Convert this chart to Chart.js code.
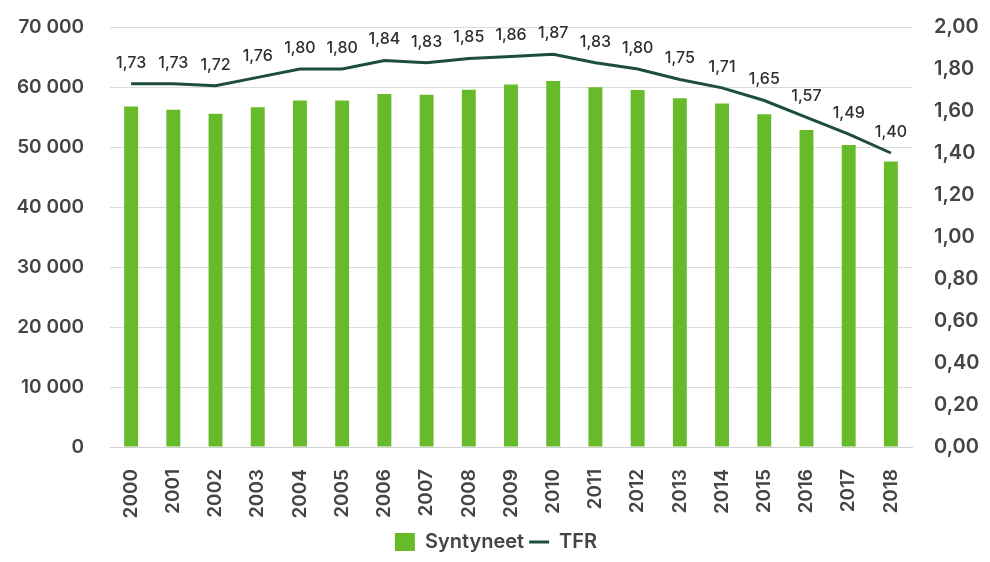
<!DOCTYPE html>
<html>
<head>
<meta charset="utf-8">
<script src="https://cdn.jsdelivr.net/npm/chart.js@4.4.0/dist/chart.umd.min.js"></script>
<style>
  html, body { margin: 0; padding: 0; background: #fff; }
  #wrap { width: 990px; height: 562px; position: relative; }
</style>
</head>
<body>
<div id="wrap"><canvas id="c"></canvas></div>
<script>
// vuodet
const years = ['2000', '2001', '2002', '2003', '2004', '2005', '2006', '2007', '2008', '2009',
    '2010', '2011', '2012', '2013', '2014', '2015', '2016', '2017', '2018'];
// syntyneet lapset
const births = [56742, 56189, 55555, 56630, 57758, 57745, 58840, 58729, 59530, 60430,
    60980, 59961, 59493, 58134, 57232, 55472, 52814, 50321, 47577];
// kokonaishedelmällisyysluku
const tfr = [1.73, 1.73, 1.72, 1.76, 1.80, 1.80, 1.84, 1.83, 1.85, 1.86,
    1.87, 1.83, 1.80, 1.75, 1.71, 1.65, 1.57, 1.49, 1.40];

const fontFam = 'Inter, "Open Sans", sans-serif';
const txt = '#444';

function fiNum(v) {
    return String(Math.round(v)).replace(/\B(?=(\d{3})+(?!\d))/g, ' ');
}
function fiDec(v) {
    return v.toFixed(2).replace('.', ',');
}

// labels over the TFR line
const lineLabels = {
    id: 'lineLabels',
    afterDatasetsDraw(chart) {
        const ctx = chart.ctx;
        const meta = chart.getDatasetMeta(1);
        ctx.save();
        ctx.font = '500 16px ' + fontFam;
        ctx.fillStyle = '#2e2e2e';
        ctx.textAlign = 'center';
        ctx.textBaseline = 'middle';
        meta.data.forEach((pt, i) => {
            ctx.fillText(fiDec(tfr[i]), pt.x, pt.y - 21);
        });
        ctx.restore();
    }
};

new Chart(document.getElementById('c'), {
    data: {
        labels: years,
        datasets: [
            {
                type: 'bar',
                label: 'Syntyneet',
                data: births,
                backgroundColor: '#67bb2b',
                barPercentage: 0.33,
                categoryPercentage: 1,
                yAxisID: 'y',
                order: 2,
                pointStyle: 'rect'
            },
            {
                type: 'line',
                label: 'TFR',
                data: tfr,
                borderColor: '#1d4e3a',
                backgroundColor: '#1d4e3a',
                borderWidth: 3,
                pointRadius: 0,
                tension: 0,
                yAxisID: 'y1',
                order: 1,
                pointStyle: 'line'
            }
        ]
    },
    options: {
        responsive: true,
        maintainAspectRatio: false,
        animation: false,
        layout: { padding: { top: 27, left: 4, right: 2, bottom: 0 } },
        plugins: {
            legend: {
                position: 'bottom',
                labels: {
                    usePointStyle: true,
                    pointStyleWidth: 20,
                    boxHeight: 18,
                    color: txt,
                    font: { family: fontFam, size: 20, weight: '600' },
                    padding: 5,
                    sort: (a, b) => a.datasetIndex - b.datasetIndex
                }
            },
            tooltip: { enabled: false }
        },
        scales: {
            x: {
                grid: { display: false },
                border: { color: '#d0d0d0', width: 1 },
                afterFit: s => { s.height = 80; },
                ticks: {
                    color: txt,
                    minRotation: 90,
                    maxRotation: 90,
                    font: { family: fontFam, size: 19, weight: '600' },
                    padding: 14
                }
            },
            y: {
                position: 'left',
                min: 0,
                max: 70000,
                grid: { color: '#dcdcdc', drawTicks: false },
                border: { display: false },
                afterFit: s => { s.width = 106; s.paddingTop = 0; s.paddingBottom = 0; },
                ticks: {
                    stepSize: 10000,
                    color: txt,
                    padding: 26,
                    font: { family: fontFam, size: 19, weight: '600' },
                    callback: v => fiNum(v)
                }
            },
            y1: {
                position: 'right',
                min: 0,
                max: 2,
                grid: { display: false, drawTicks: false },
                border: { display: false },
                afterFit: s => { s.width = 76; s.paddingTop = 0; s.paddingBottom = 0; },
                ticks: {
                    stepSize: 0.2,
                    color: txt,
                    padding: 22,
                    font: { family: fontFam, size: 20, weight: '600' },
                    callback: v => fiDec(v)
                }
            }
        }
    },
    plugins: [lineLabels]
});
</script>
</body>
</html>
